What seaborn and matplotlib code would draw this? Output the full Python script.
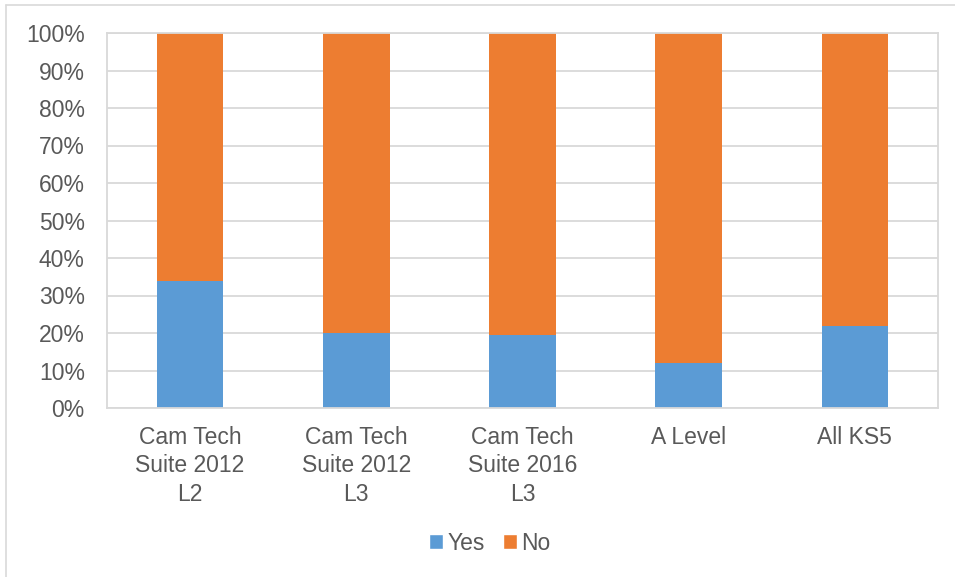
import matplotlib
matplotlib.use('Agg')
import matplotlib.pyplot as plt
from matplotlib.lines import Line2D
from matplotlib.patches import Patch
import numpy as np
import pandas as pd
import seaborn as sns

categories = ['Cam Tech\nSuite 2012\nL2', 'Cam Tech\nSuite 2012\nL3',
              'Cam Tech\nSuite 2016\nL3', 'A Level', 'All KS5']
yes = [34.0, 19.9, 19.6, 12.1, 22.0]
no = [100 - v for v in yes]

blue = '#5b9bd5'
orange = '#ed7d31'
text_c = '#595959'
grid_c = '#d9d9d9'

sns.set_style('white')
plt.rcParams['font.family'] = ['Liberation Sans', 'DejaVu Sans']

df = pd.DataFrame({'cat': categories, 'Yes': yes, 'No': no})

fig = plt.figure(figsize=(9.55, 5.77), dpi=100)
ax = fig.add_axes([107/955, 1 - 408/577, 831/955, 375/577])

sns.barplot(data=df, x='cat', y='Yes', color=blue, width=0.4, ax=ax,
            saturation=1, edgecolor='none')
sns.barplot(data=df, x='cat', y='No', color=orange, width=0.4, ax=ax,
            saturation=1, edgecolor='none', bottom=df['Yes'])

ax.set_ylim(0, 100)
ax.set_xlim(-0.5, 4.5)
ax.set_yticks(np.arange(0, 101, 10))
ax.set_yticklabels([f'{v}%' for v in range(0, 101, 10)])
ax.yaxis.grid(True, color=grid_c, linewidth=1.3)
ax.set_axisbelow(True)
for s in ax.spines.values():
    s.set_color(grid_c)
    s.set_linewidth(1.3)
ax.set_xlabel('')
ax.set_ylabel('')
ax.tick_params(axis='both', length=0, labelsize=16.5, labelcolor=text_c)
ax.tick_params(axis='y', pad=16)
ax.tick_params(axis='x', pad=13)
for t in ax.get_xticklabels():
    t.set_linespacing(1.3)

handles = [Patch(facecolor=blue, label='Yes'), Patch(facecolor=orange, label='No')]
fig.legend(handles=handles, loc='center', bbox_to_anchor=(490/955, 1 - 543/577),
           ncol=2, frameon=False, fontsize=16.5, labelcolor=text_c,
           handlelength=0.6, handleheight=0.6, handletextpad=0.2, columnspacing=0.8)

# outer chart border (left and top edges visible)
fig.add_artist(Line2D([6/955, 6/955], [0, 1 - 5/577], transform=fig.transFigure,
                      color=grid_c, linewidth=1.2))
fig.add_artist(Line2D([6/955, 1], [1 - 5/577, 1 - 5/577], transform=fig.transFigure,
                      color=grid_c, linewidth=1.2))

fig.savefig('out.png', dpi=100)
